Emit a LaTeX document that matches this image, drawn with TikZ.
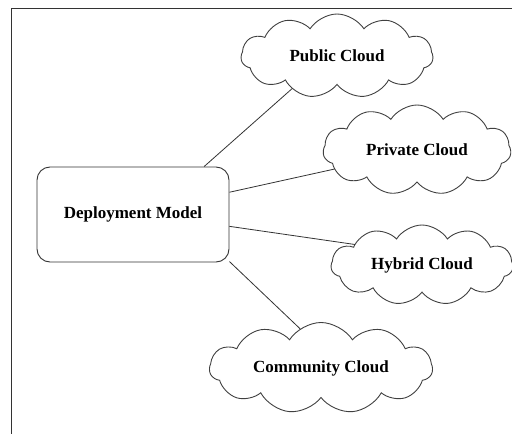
\documentclass[tikz,border=0pt]{standalone}
\usepackage{fontspec}
\setmainfont{Liberation Serif}
\usetikzlibrary{shapes.symbols}
\begin{document}
\begin{tikzpicture}[x=1pt,y=-1pt,
  lbl/.style={font=\fontsize{17}{20}\selectfont\bfseries},
  cloudbox/.style={cloud, cloud puffs=11, cloud puff arc=115, cloud ignores aspect, draw=black!75, line width=0.9pt, inner sep=0pt, outer sep=0pt, lbl},
  modelbox/.style={draw=black!80, line width=0.9pt, rounded corners=13pt, minimum width=192pt, minimum height=95pt, lbl},
  link/.style={draw=black!80, line width=0.8pt}]
\useasboundingbox (0,0) rectangle (512,434);
\draw[draw=black!80, line width=0.9pt] (11,434) -- (11,8) -- (512,8);
\node[modelbox] (model) at (133,214.5) {Deployment Model};
\node[cloudbox, minimum width=192pt, minimum height=84pt] (pub) at (337,56) {Public Cloud};
\node[cloudbox, minimum width=188pt, minimum height=90pt] (priv) at (417,150) {Private Cloud};
\node[cloudbox, minimum width=182pt, minimum height=80pt] (hyb) at (422,265) {Hybrid Cloud};
\node[cloudbox, minimum width=223pt, minimum height=91pt] (comm) at (321,368) {Community Cloud};
\draw[link] (model.34) -- (pub.216);
\draw[link] (model.13) -- (priv.193);
\draw[link] (model.-7) -- (hyb.163);
\draw[link] (model.-26) -- (comm.118);
\end{tikzpicture}
\end{document}
